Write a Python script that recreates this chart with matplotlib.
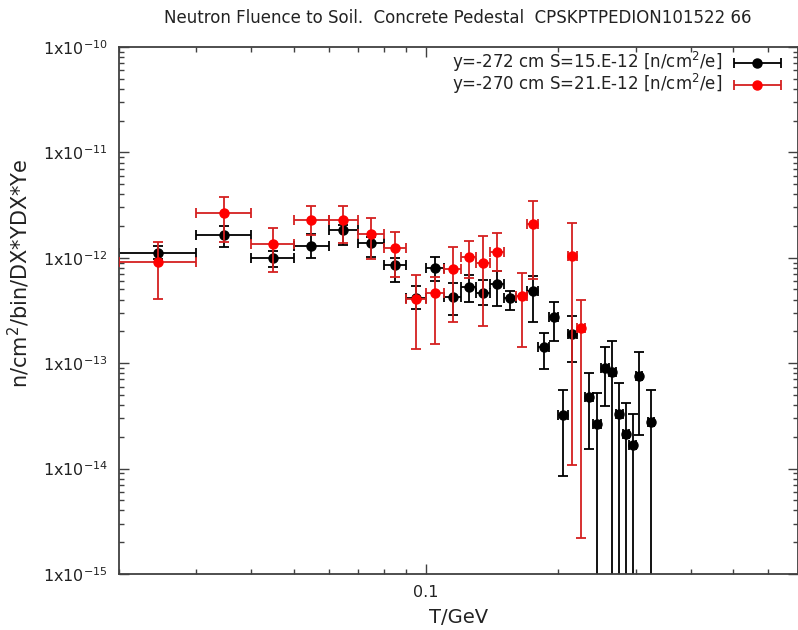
import numpy as np
import matplotlib
matplotlib.use("Agg")
import matplotlib.pyplot as plt
import matplotlib.ticker as mticker
from matplotlib.legend_handler import HandlerErrorbar

# y = -272 cm (black)
blk_lo = [0.02, 0.03, 0.04, 0.05, 0.06, 0.07, 0.08, 0.09, 0.10, 0.11, 0.12, 0.13,
          0.14, 0.15, 0.17, 0.18, 0.19, 0.20, 0.21, 0.23, 0.24, 0.25, 0.26, 0.27,
          0.28, 0.29, 0.30, 0.32]
blk_hi = [0.03, 0.04, 0.05, 0.06, 0.07, 0.08, 0.09, 0.10, 0.11, 0.12, 0.13, 0.14,
          0.15, 0.16, 0.18, 0.19, 0.20, 0.21, 0.22, 0.24, 0.25, 0.26, 0.27, 0.28,
          0.29, 0.30, 0.31, 0.33]
blk_y = [1.12e-12, 1.64e-12, 9.85e-13, 1.30e-12, 1.82e-12, 1.39e-12, 8.49e-13, 4.18e-13,
         7.95e-13, 4.28e-13, 5.32e-13, 4.60e-13, 5.61e-13, 4.11e-13, 4.79e-13, 1.43e-13,
         2.73e-13, 3.19e-14, 1.89e-13, 4.78e-14, 2.65e-14, 9.06e-14, 8.30e-14, 3.32e-14,
         2.13e-14, 1.69e-14, 7.56e-14, 2.75e-14]
blk_ylo = [9.8e-13, 1.27e-12, 8.13e-13, 9.89e-13, 1.32e-12, 1.02e-12, 5.93e-13, 3.25e-13,
           6.06e-13, 2.87e-13, 3.78e-13, 3.57e-13, 3.49e-13, 3.20e-13, 2.48e-13, 8.81e-14,
           1.62e-13, 8.56e-15, 1.02e-13, 1.54e-14, 0.0, 3.93e-14, 0.0, 0.0,
           0.0, 0.0, 2.08e-14, 0.0]
blk_yhi = [1.28e-12, 2.00e-12, 1.16e-12, 1.67e-12, 2.05e-12, 1.59e-12, 9.96e-13, 5.44e-13,
           1.01e-12, 5.73e-13, 6.87e-13, 6.16e-13, 7.54e-13, 4.87e-13, 6.76e-13, 1.95e-13,
           3.78e-13, 5.57e-14, 2.81e-13, 8.02e-14, 5.18e-14, 1.43e-13, 1.62e-13, 6.53e-14,
           4.22e-14, 3.30e-14, 1.27e-13, 5.57e-14]

# y = -270 cm (red)
red_lo = [0.02, 0.03, 0.04, 0.05, 0.06, 0.07, 0.08, 0.09, 0.10, 0.11, 0.12, 0.13,
          0.14, 0.16, 0.17, 0.21, 0.22]
red_hi = [0.03, 0.04, 0.05, 0.06, 0.07, 0.08, 0.09, 0.10, 0.11, 0.12, 0.13, 0.14,
          0.15, 0.17, 0.18, 0.22, 0.23]
red_y = [9.06e-13, 2.64e-12, 1.35e-12, 2.27e-12, 2.27e-12, 1.68e-12, 1.23e-12, 4.09e-13,
         4.58e-13, 7.78e-13, 1.02e-12, 8.98e-13, 1.13e-12, 4.36e-13, 2.08e-12, 1.04e-12,
         2.14e-13]
red_ylo = [4.09e-13, 1.41e-12, 7.33e-13, 1.65e-12, 1.37e-12, 9.68e-13, 6.62e-13, 1.36e-13,
           1.52e-13, 2.48e-13, 6.43e-13, 2.27e-13, 7.54e-13, 1.43e-13, 6.29e-13, 1.07e-14,
           2.17e-15]
red_yhi = [1.42e-12, 3.80e-12, 1.93e-12, 3.07e-12, 3.10e-12, 2.40e-12, 1.76e-12, 6.87e-13,
           6.60e-13, 1.26e-12, 1.45e-12, 1.61e-12, 1.73e-12, 7.22e-13, 3.46e-12, 2.13e-12,
           4.00e-13]

y_decades = [1e-15, 1e-14, 1e-13, 1e-12, 1e-11, 1e-10]

LABEL_BLK = r"y=-272 cm S=15.E-12 [n/cm$^2$/e]"
LABEL_RED = r"y=-270 cm S=21.E-12 [n/cm$^2$/e]"
TITLE = "Neutron Fluence to Soil.  Concrete Pedestal  CPSKPTPEDION101522 66"

AXIS_COLOR = "#404040"
TEXT_COLOR = "#222222"


def draw_series(ax, lo, hi, y, ylo, yhi, color, ecolor, label, z):
    lo = np.array(lo)
    hi = np.array(hi)
    y = np.array(y)
    ylo = np.array(ylo)
    yhi = np.array(yhi)
    x = np.sqrt(lo * hi)
    xerr = [x - lo, hi - x]
    # lower bound of zero runs the bar off the bottom of the log axis
    down = np.where(ylo > 0, y - ylo, y * (1 - 1e-6))
    yerr = [down, yhi - y]
    ax.errorbar(x, y, yerr=yerr, fmt="none", ecolor=ecolor, elinewidth=1.3,
                capsize=3.6, capthick=1.3, zorder=z)
    ax.errorbar(x, y, xerr=xerr, fmt="o", color=color, ecolor=ecolor,
                markersize=6.5, elinewidth=1.3, capsize=3.6, capthick=1.3,
                label=label, zorder=z + 0.5)


fig = plt.figure(figsize=(7.98, 6.30), dpi=100)
ax = fig.add_axes([0.149, 0.089, 0.8505, 0.8365])

draw_series(ax, blk_lo, blk_hi, blk_y, blk_ylo, blk_yhi, "black", "black", LABEL_BLK, 2)
draw_series(ax, red_lo, red_hi, red_y, red_ylo, red_yhi, "#ff0000", "#d42020", LABEL_RED, 3)

ax.set_xscale("log")
ax.set_yscale("log")
ax.set_xlim(0.02, 0.7)
ax.set_ylim(y_decades[0], y_decades[-1])

ax.xaxis.set_major_locator(mticker.FixedLocator([0.1]))
ax.xaxis.set_major_formatter(mticker.FixedFormatter(["0.1"]))
ax.xaxis.set_minor_locator(mticker.LogLocator(base=10, subs=np.arange(2, 10)))
ax.xaxis.set_minor_formatter(mticker.NullFormatter())

ax.yaxis.set_major_locator(mticker.FixedLocator(y_decades))
ax.yaxis.set_major_formatter(
    mticker.FuncFormatter(lambda v, p: r"1x10$^{%d}$" % int(round(np.log10(v)))))
ax.yaxis.set_minor_locator(mticker.LogLocator(base=10, subs=np.arange(2, 10), numticks=20))
ax.yaxis.set_minor_formatter(mticker.NullFormatter())

ax.tick_params(which="both", direction="in", top=True, right=True,
               color=AXIS_COLOR, labelcolor=TEXT_COLOR, labelsize=11.5, width=1.0)
ax.tick_params(which="major", length=7, pad=8)
ax.tick_params(which="minor", length=3.5)
for s in ax.spines.values():
    s.set_color(AXIS_COLOR)
    s.set_linewidth(1.3)

ax.set_xlabel("T/GeV", fontsize=14, color=TEXT_COLOR, labelpad=6)
ax.set_ylabel(r"n/cm$^2$/bin/DX*YDX*Ye", fontsize=15, color=TEXT_COLOR)
ax.yaxis.set_label_coords(-0.128, 0.57)
fig.text(0.573, 0.972, TITLE, ha="center", va="center", fontsize=12, color=TEXT_COLOR)

handles, labels = ax.get_legend_handles_labels()
ax.legend(handles, labels, loc="upper right", bbox_to_anchor=(0.98, 1.0),
          frameon=False, markerfirst=False,
          fontsize=12, handlelength=2.8, handletextpad=0.7, labelspacing=-0.12,
          borderaxespad=0.0, borderpad=0.2, labelcolor=TEXT_COLOR,
          handler_map={type(handles[0]): HandlerErrorbar(xerr_size=1.4)})

fig.savefig("out.png", dpi=100)
